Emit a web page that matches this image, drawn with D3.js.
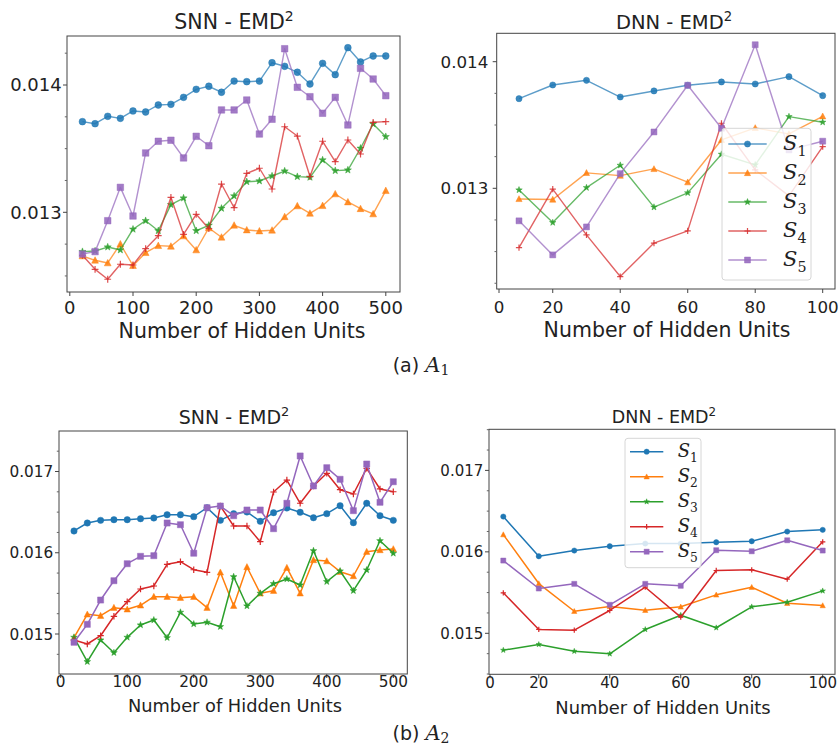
<!DOCTYPE html>
<html><head><meta charset="utf-8">
<script src="https://cdn.jsdelivr.net/npm/d3@7"></script>
<style>
body{margin:0;background:#fff}
svg{display:block}
text{font-family:"DejaVu Sans",sans-serif;fill:#222}
</style>
</head><body>
<svg id="c" width="840" height="749"></svg>
<script>
// ---------------- data ----------------
const seriesNames = ["1","2","3","4","5"];               // subscripts of S_i
const seriesColors = ["#1f77b4","#ff7f0e","#2ca02c","#d62728","#9467bd"];
const seriesMarkers = ["circle","triangle","star","plus","square"];

const snnUnits = [20,40,60,80,100,120,140,160,180,200,220,240,260,280,300,320,340,360,380,400,420,440,460,480,500];
const dnnUnits = [10,20,30,40,50,60,70,80,90,100];
const snnTicks = [0,100,200,300,400,500];
const dnnTicks = [0,20,40,60,80,100];
const a1Ticks = [0.013,0.014];
const a2Ticks = [0.015,0.016,0.017];

// (a) A1 - SNN
const a1SnnS1 = [0.013712,0.013696,0.013754,0.013738,0.013796,0.013788,0.013843,0.013848,0.013903,0.013966,0.013990,0.013943,0.014031,0.014026,0.014031,0.014175,0.014147,0.014100,0.014008,0.014170,0.014081,0.014293,0.014181,0.014228,0.014228];
const a1SnnS2 = [0.012657,0.012623,0.012602,0.012751,0.012581,0.012683,0.012738,0.012733,0.012814,0.012704,0.012877,0.012804,0.012898,0.012861,0.012853,0.012859,0.012965,0.013050,0.012992,0.013052,0.013144,0.013081,0.013028,0.012987,0.013170];
const a1SnnS3 = [0.012691,0.012696,0.012727,0.012704,0.012867,0.012934,0.012855,0.013060,0.013112,0.012855,0.012898,0.013031,0.013128,0.013240,0.013246,0.013285,0.013324,0.013280,0.013275,0.013411,0.013327,0.013332,0.013503,0.013694,0.013594];
const a1SnnS4 = [0.012662,0.012552,0.012474,0.012592,0.012586,0.012714,0.012816,0.013118,0.012827,0.012984,0.012871,0.013222,0.013036,0.013306,0.013346,0.013183,0.013672,0.013599,0.013281,0.013558,0.013398,0.013568,0.013458,0.013707,0.013712];
const a1SnnS5 = [0.012672,0.012691,0.012934,0.013196,0.012971,0.013466,0.013558,0.013566,0.013427,0.013597,0.013523,0.013804,0.013804,0.013882,0.013615,0.013731,0.014285,0.013982,0.013908,0.013778,0.013903,0.013686,0.014131,0.014047,0.013916];

// (a) A1 - DNN
const a1DnnS1 = [0.013708,0.013816,0.013853,0.013721,0.013769,0.013814,0.013840,0.013824,0.013882,0.013732];
const a1DnnS2 = [0.012916,0.012911,0.013122,0.013100,0.013153,0.013048,0.013382,0.013477,0.013429,0.013569];
const a1DnnS3 = [0.012987,0.012729,0.013005,0.013182,0.012851,0.012964,0.013269,0.013185,0.013566,0.013522];
const a1DnnS4 = [0.012532,0.012993,0.012632,0.012303,0.012567,0.012664,0.013514,0.013145,0.012940,0.013329];
const a1DnnS5 = [0.012743,0.012474,0.012695,0.013116,0.013445,0.013814,0.013474,0.014134,0.013303,0.013372];

// (b) A2 - SNN
const a2SnnS1 = [0.016268,0.016366,0.016399,0.016407,0.016407,0.016419,0.016428,0.016468,0.016468,0.016444,0.016554,0.016399,0.016481,0.016502,0.016387,0.016493,0.016551,0.016498,0.016431,0.016481,0.016579,0.016370,0.016609,0.016456,0.016399];
const a2SnnS2 = [0.014954,0.015242,0.015225,0.015324,0.015304,0.015353,0.015459,0.015459,0.015447,0.015459,0.015324,0.015759,0.015348,0.015825,0.015501,0.015533,0.015816,0.015501,0.015911,0.015898,0.015767,0.015714,0.016013,0.016034,0.016046];
const a2SnnS3 = [0.014959,0.014659,0.014926,0.014770,0.014959,0.015111,0.015172,0.014954,0.015267,0.015123,0.015144,0.015090,0.015705,0.015345,0.015501,0.015619,0.015677,0.015603,0.016025,0.015644,0.015775,0.015533,0.015788,0.016148,0.015993];
const a2SnnS4 = [0.014926,0.014877,0.014979,0.015218,0.015398,0.015554,0.015591,0.015858,0.015890,0.015791,0.015759,0.016575,0.016329,0.016329,0.016136,0.016748,0.016895,0.016609,0.016822,0.016978,0.016776,0.016723,0.017039,0.016785,0.016751];
const a2SnnS5 = [0.014898,0.015119,0.015418,0.015656,0.015865,0.015956,0.015964,0.016366,0.016345,0.015994,0.016554,0.016575,0.016456,0.016526,0.016526,0.016296,0.016609,0.017191,0.016822,0.017047,0.016904,0.016518,0.017092,0.016621,0.016874];

// (b) A2 - DNN
const a2DnnS1 = [0.016433,0.015946,0.016016,0.016069,0.016102,0.016102,0.016118,0.016130,0.016249,0.016270];
const a2DnnS2 = [0.016212,0.015611,0.015271,0.015329,0.015283,0.015325,0.015472,0.015566,0.015369,0.015341];
const a2DnnS3 = [0.014793,0.014863,0.014780,0.014748,0.015047,0.015222,0.015068,0.015325,0.015382,0.015521];
const a2DnnS4 = [0.015497,0.015047,0.015038,0.015280,0.015566,0.015198,0.015771,0.015779,0.015664,0.016123];
const a2DnnS5 = [0.015893,0.015550,0.015607,0.015350,0.015607,0.015583,0.016020,0.016007,0.016142,0.016016];

// ---------------- layout ----------------
const panels = [
  {title:"SNN - EMD", units:snnUnits, xTicks:snnTicks, yTicks:a1Ticks,
   series:[a1SnnS1,a1SnnS2,a1SnnS3,a1SnnS4,a1SnnS5],
   box:[67,36,400,292], xDom:[0,500], xRng:[69.8,385.8], yDom:[0.013,0.014], yRng:[212.3,85],
   fsTitle:20.5, fsTick:18, fsLabel:20.5, titleX:234, titleY:29.3, labelX:242, labelY:338.3,
   xTickY:314, yTickX:61.7, ms:6.8, lw:1.4, alpha:0.72, legend:null},
  {title:"DNN - EMD", units:dnnUnits, xTicks:dnnTicks, yTicks:a1Ticks,
   series:[a1DnnS1,a1DnnS2,a1DnnS3,a1DnnS4,a1DnnS5],
   box:[496.7,33.3,835,289], xDom:[0,10,100], xRng:[499,519,822.7], yDom:[0.013,0.014], yRng:[188.3,61.7],
   fsTitle:19.5, fsTick:16.7, fsLabel:20.5, titleX:674, titleY:29.3, labelX:667, labelY:336.7,
   xTickY:312.7, yTickX:488.3, ms:6.2, lw:1.4, alpha:0.72,
   legend:{box:[722,128.3,811,280], y0:144, dy:29, lx0:728.3, lx1:766.7, tx:783, fs:21}},
  {title:"SNN - EMD", units:snnUnits, xTicks:snnTicks, yTicks:a2Ticks,
   series:[a2SnnS1,a2SnnS2,a2SnnS3,a2SnnS4,a2SnnS5],
   box:[59,431,407.3,674], xDom:[0,500], xRng:[60.7,393.3], yDom:[0.015,0.017], yRng:[634,471.5],
   fsTitle:19, fsTick:15.3, fsLabel:17.8, titleX:234, titleY:424.3, labelX:235, labelY:712.3,
   xTickY:686.7, yTickX:53.3, ms:6.4, lw:1.5, alpha:1, legend:null},
  {title:"DNN - EMD", units:dnnUnits, xTicks:dnnTicks, yTicks:a2Ticks,
   series:[a2DnnS1,a2DnnS2,a2DnnS3,a2DnnS4,a2DnnS5],
   box:[489,429.3,835,674.3], xDom:[0,10,100], xRng:[490,503.3,822.7], yDom:[0.015,0.017], yRng:[633.3,470.4],
   fsTitle:17.5, fsTick:15, fsLabel:17.9, titleX:664, titleY:423.3, labelX:663, labelY:714,
   xTickY:687.7, yTickX:483.3, ms:5.3, lw:1.5, alpha:1,
   legend:{box:[625,438.3,701,567.7], y0:451.7, dy:25, lx0:630, lx1:663.3, tx:677.7, fs:18}}
];

const svg = d3.select("#c");

function markerPath(type, ms){
  const h = ms/2;
  switch(type){
    case "circle": return d3.symbol(d3.symbolCircle, Math.PI*h*h)();
    case "square": return d3.symbol(d3.symbolSquare, ms*ms*0.92)();
    case "triangle": return `M0,${-h*1.05}L${h},${h*0.85}L${-h},${h*0.85}Z`;
    case "star": {
      const pts=[];
      for(let i=0;i<10;i++){
        const r = i%2 ? h*0.45 : h*1.1;
        const a = -Math.PI/2 + i*Math.PI/5;
        pts.push((r*Math.cos(a)).toFixed(2)+","+(r*Math.sin(a)).toFixed(2));
      }
      return "M"+pts.join("L")+"Z";
    }
    case "plus": return `M${-h},0H${h}M0,${-h}V${h}`;
  }
}

function drawMarker(sel, type, color, ms, alpha){
  sel.attr("d", markerPath(type, ms));
  if(type==="plus"){
    sel.attr("fill","none").attr("stroke",color).attr("stroke-width",1.2).attr("stroke-opacity",Math.min(1,alpha+0.1));
  } else {
    sel.attr("fill",color).attr("fill-opacity",Math.min(1,alpha+0.15))
       .attr("stroke",color).attr("stroke-opacity",0.45).attr("stroke-width",1);
  }
}

function mathS(textSel, sub, fs){
  textSel.append("tspan").text("S").attr("font-family","'DejaVu Serif',serif").attr("font-style","italic").attr("font-size",fs);
  textSel.append("tspan").text(sub).attr("font-family","'DejaVu Serif',serif").attr("font-size",fs*0.68).attr("dy",fs*0.25);
}

panels.forEach(p=>{
  const g = svg.append("g");
  const x = d3.scaleLinear().domain(p.xDom).range(p.xRng);
  const y = d3.scaleLinear().domain(p.yDom).range(p.yRng);
  const [l,t,r,b] = p.box;

  // series
  p.series.forEach((vals,i)=>{
    const pts = p.units.map((u,k)=>[u, vals[k]]);
    g.append("path")
      .attr("d", d3.line().x(d=>x(d[0])).y(d=>y(d[1]))(pts))
      .attr("fill","none").attr("stroke",seriesColors[i])
      .attr("stroke-width",p.lw).attr("stroke-opacity",p.alpha).attr("stroke-linejoin","round");
    g.selectAll(null).data(pts).join("path")
      .attr("transform",d=>`translate(${x(d[0])},${y(d[1])})`)
      .call(s=>drawMarker(s, seriesMarkers[i], seriesColors[i], p.ms, p.alpha));
  });

  // frame
  g.append("rect").attr("x",l).attr("y",t).attr("width",r-l).attr("height",b-t)
    .attr("fill","none").attr("stroke","#444").attr("stroke-width",1);

  // y ticks
  const fmt = d3.format(".3f");
  p.yTicks.forEach(v=>{
    const yy = y(v);
    g.append("line").attr("x1",l-4).attr("x2",l).attr("y1",yy).attr("y2",yy).attr("stroke","#444");
    g.append("text").attr("x",p.yTickX).attr("y",yy+0.36*p.fsTick).attr("text-anchor","end")
      .attr("font-size",p.fsTick).text(fmt(v));
  });
  // minor y ticks
  const step = 0.00025;
  const lo = y.invert(b), hi = y.invert(t);
  for(let k=Math.ceil(lo/step); k<=Math.floor(hi/step); k++){
    const v = k*step;
    if(p.yTicks.some(m=>Math.abs(m-v)<1e-9)) continue;
    const yy = y(v);
    g.append("line").attr("x1",l-2.2).attr("x2",l).attr("y1",yy).attr("y2",yy).attr("stroke","#666");
  }
  // x ticks
  p.xTicks.forEach(v=>{
    const xx = x(v);
    g.append("line").attr("x1",xx).attr("x2",xx).attr("y1",b).attr("y2",b+4).attr("stroke","#444");
    g.append("text").attr("x",xx).attr("y",p.xTickY).attr("text-anchor","middle")
      .attr("font-size",p.fsTick).text(v);
  });

  // title
  const tt = g.append("text").attr("x",p.titleX).attr("y",p.titleY).attr("text-anchor","middle").attr("font-size",p.fsTitle);
  tt.append("tspan").text(p.title);
  tt.append("tspan").text("2").attr("font-size",p.fsTitle*0.68).attr("dy",-p.fsTitle*0.42);

  // x label
  g.append("text").attr("x",p.labelX).attr("y",p.labelY).attr("text-anchor","middle")
    .attr("font-size",p.fsLabel).text("Number of Hidden Units");

  // legend
  if(p.legend){
    const L = p.legend;
    g.append("rect").attr("x",L.box[0]).attr("y",L.box[1]).attr("width",L.box[2]-L.box[0]).attr("height",L.box[3]-L.box[1])
      .attr("rx",3).attr("fill","#fff").attr("fill-opacity",0.82).attr("stroke","#d6d6d6");
    seriesNames.forEach((n,i)=>{
      const yy = L.y0 + i*L.dy;
      g.append("line").attr("x1",L.lx0).attr("x2",L.lx1).attr("y1",yy).attr("y2",yy)
        .attr("stroke",seriesColors[i]).attr("stroke-width",p.lw).attr("stroke-opacity",p.alpha);
      g.append("path").attr("transform",`translate(${(L.lx0+L.lx1)/2},${yy})`)
        .call(s=>drawMarker(s, seriesMarkers[i], seriesColors[i], p.ms, p.alpha));
      const tx = g.append("text").attr("x",L.tx).attr("y",yy+0.3*L.fs);
      mathS(tx, n, L.fs);
    });
  }
});

// captions
function caption(label, sub, yb){
  const c = svg.append("text").attr("x",421).attr("y",yb).attr("text-anchor","middle").attr("font-size",19);
  c.append("tspan").text(label+" ");
  c.append("tspan").text("A").attr("font-family","'DejaVu Serif',serif").attr("font-style","italic").attr("font-size",21);
  c.append("tspan").text(sub).attr("font-family","'DejaVu Serif',serif").attr("font-size",14).attr("dy",3);
}
caption("(a)","1",372);
caption("(b)","2",740);
</script>
</body></html>
